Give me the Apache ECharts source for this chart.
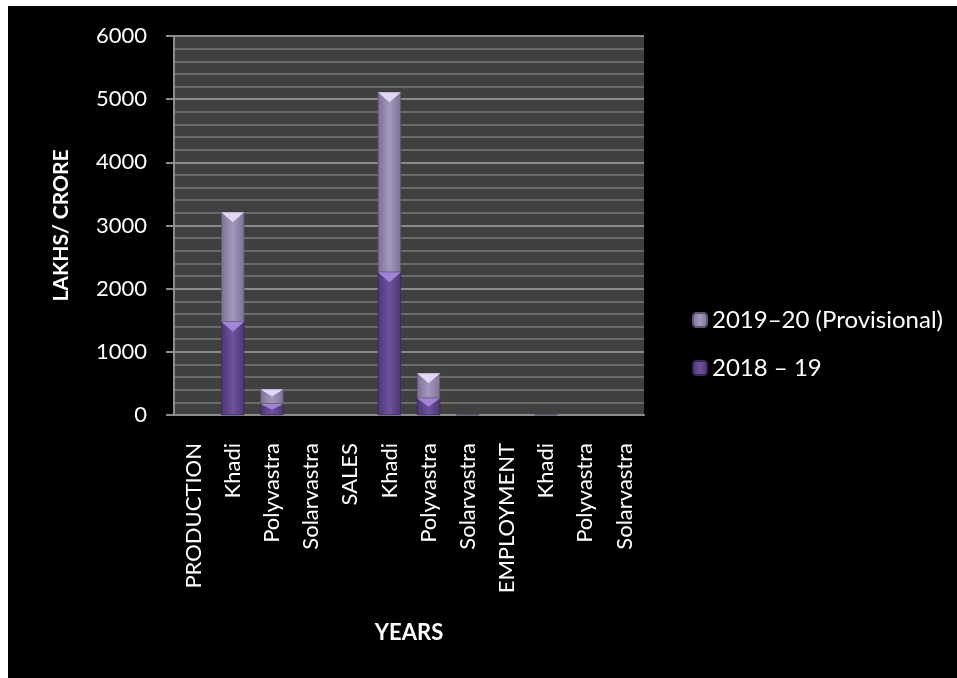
<!DOCTYPE html>
<html>
<head>
<meta charset="utf-8">
<script src="https://cdn.jsdelivr.net/npm/echarts@6/dist/echarts.min.js"></script>
<style>
  html, body { margin: 0; padding: 0; background: #ffffff; }
  #chart { position: absolute; left: 8px; top: 6px; width: 949px; height: 672px; background: #000000; }
</style>
</head>
<body>
<div id="chart"></div>
<script>
// categories along the x axis
const categories = ['PRODUCTION', 'Khadi', 'Polyvastra', 'Solarvastra', 'SALES', 'Khadi', 'Polyvastra', 'Solarvastra', 'EMPLOYMENT', 'Khadi', 'Polyvastra', 'Solarvastra']
const seriesNames = ['2018 – 19', '2019–20 (Provisional)']
// values (lakhs / crore)
const values2018 = [null, 1475, 175, null, null, 2260, 265, 4, null, 5, null, null]
const values2019 = [null, 1735, 232, null, null, 2850, 395, 4, null, 5, null, null]
const yTicks = [0, 1000, 2000, 3000, 4000, 5000, 6000]

const font = 'Lato, "Open Sans", sans-serif'
const barWidth = 23

const chart = echarts.init(document.getElementById('chart'))

// horizontal gradient to fake the bevelled look of the bars
const barGradient = (edge, mid) => new echarts.graphic.LinearGradient(0, 0, 1, 0, [
  { offset: 0, color: edge },
  { offset: 0.5, color: mid },
  { offset: 1, color: edge }
])

// light "V" at the top of each segment, like the excel bevel
const bevel = (name, lows, highs, color) => ({
  type: 'custom',
  name: name + ' bevel',
  silent: true,
  z: 3,
  data: categories.map((c, i) => [i, lows[i], highs[i]]),
  renderItem: (params, api) => {
    const lo = api.value(1), hi = api.value(2)
    if (hi == null || isNaN(hi) || hi - lo < 20) return
    const top = api.coord([api.value(0), hi])
    const bot = api.coord([api.value(0), lo])
    const h = Math.min(10, (bot[1] - top[1]) * 0.5)
    const x0 = top[0] - barWidth / 2, x1 = top[0] + barWidth / 2
    return {
      type: 'polygon',
      shape: { points: [[x0, top[1]], [x1, top[1]], [top[0], top[1] + h]] },
      style: { fill: color }
    }
  }
})

const tops2018 = values2018.map(v => v)
const tops2019 = values2018.map((v, i) => values2019[i] == null ? null : (v || 0) + values2019[i])
const zeros = values2018.map(() => 0)

chart.setOption({
  backgroundColor: '#000000',
  textStyle: { fontFamily: font },
  grid: {
    left: 166,
    top: 30,
    width: 470,
    height: 379,
    show: true,
    backgroundColor: '#404040',
    borderWidth: 0
  },
  legend: {
    orient: 'vertical',
    left: 679,
    top: 297,
    itemWidth: 14,
    itemHeight: 14,
    itemGap: 24,
    data: [seriesNames[1], seriesNames[0]],
    textStyle: { color: '#ffffff', fontSize: 24, fontFamily: font }
  },
  xAxis: {
    type: 'category',
    data: categories,
    name: 'YEARS',
    nameLocation: 'middle',
    nameGap: 207,
    nameTextStyle: { color: '#ffffff', fontSize: 22, fontWeight: 'bold', fontFamily: font },
    axisLine: { lineStyle: { color: '#8c8c8c', width: 2 } },
    axisTick: { show: false },
    axisLabel: {
      color: '#ffffff',
      fontSize: 22,
      rotate: 90,
      margin: 28,
      interval: 0,
      fontFamily: font
    }
  },
  yAxis: {
    type: 'value',
    min: yTicks[0],
    max: yTicks[yTicks.length - 1],
    interval: 1000,
    name: 'LAKHS/ CRORE',
    nameLocation: 'middle',
    nameGap: 102,
    nameTextStyle: { color: '#ffffff', fontSize: 21, fontWeight: 'bold', fontFamily: font },
    axisLine: { show: true, lineStyle: { color: '#8c8c8c', width: 2 } },
    axisTick: { show: true, length: 8, lineStyle: { color: '#8c8c8c', width: 2 } },
    axisLabel: { color: '#ffffff', fontSize: 22, margin: 27, fontFamily: font, formatter: v => String(v) },
    splitLine: { show: true, lineStyle: { color: '#8a8a8a', width: 2 } },
    minorTick: { show: false, splitNumber: 5 },
    minorSplitLine: { show: true, lineStyle: { color: '#6a6a6a', width: 2 } }
  },
  series: [
    {
      name: seriesNames[0],
      type: 'bar',
      stack: 'total',
      barWidth: barWidth,
      data: values2018,
      itemStyle: {
        color: barGradient('#4e3672', '#6d52a0'),
        borderColor: '#3a2858',
        borderWidth: 0.5
      }
    },
    {
      name: seriesNames[1],
      type: 'bar',
      stack: 'total',
      barWidth: barWidth,
      data: values2019,
      itemStyle: {
        color: barGradient('#7d7294', '#a497bf'),
        borderColor: '#5e5572',
        borderWidth: 0.5
      }
    },
    bevel(seriesNames[0], zeros, tops2018, '#a283d6'),
    bevel(seriesNames[1], tops2018, tops2019, '#e2d6f4')
  ]
})
</script>
</body>
</html>
